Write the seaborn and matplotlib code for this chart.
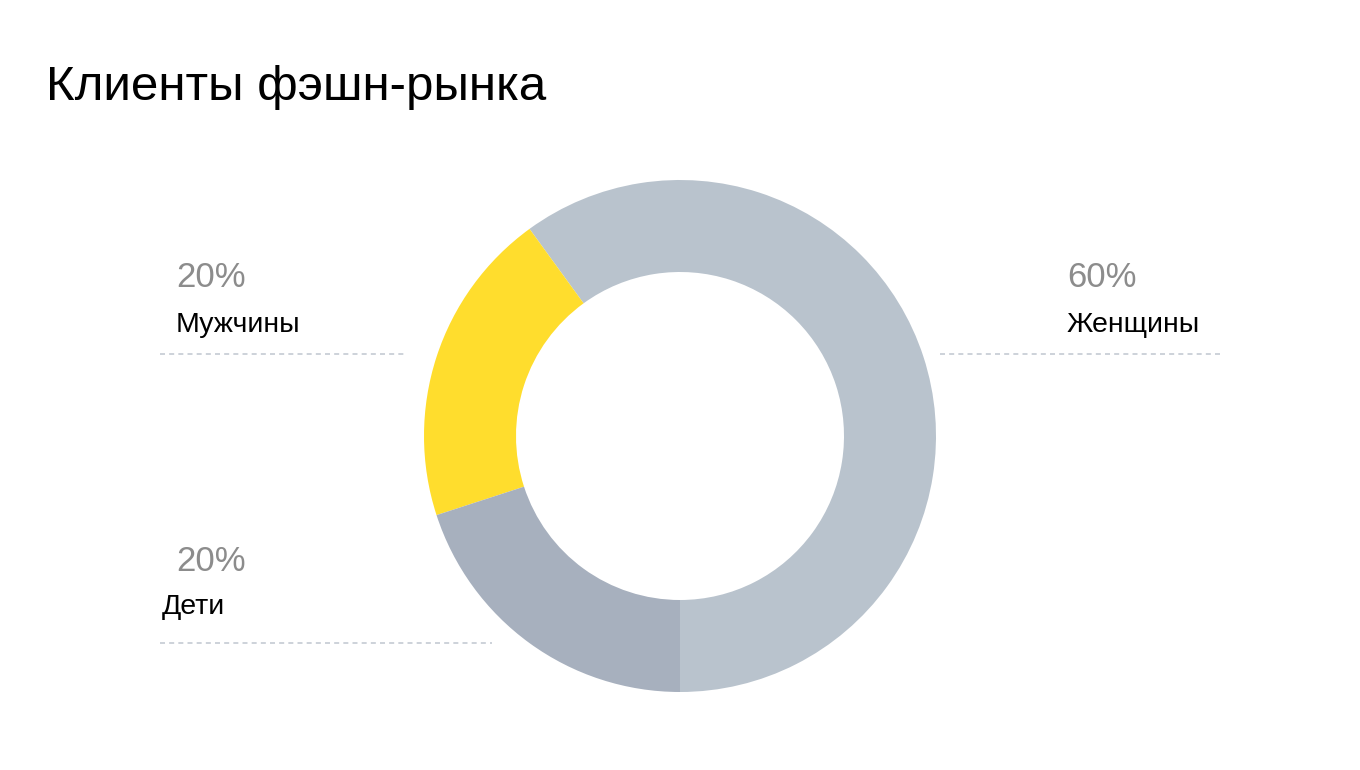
import matplotlib
matplotlib.use("Agg")
import matplotlib.pyplot as plt
import seaborn as sns

sns.set_theme(style="white")
plt.rcParams['font.family'] = ['Liberation Sans', 'DejaVu Sans']

title = "Клиенты фэшн-рынка"
categories = ["Женщины", "Мужчины", "Дети"]
values = [60, 20, 20]
pct_labels = ["60%", "20%", "20%"]
colors = ["#B9C3CD", "#FFDD2D", "#A7B0BE"]

W, H = 1360, 770
fig = plt.figure(figsize=(13.6, 7.7), dpi=100)
ax = fig.add_axes([0, 0, 1, 1])
ax.set_xlim(0, W)
ax.set_ylim(0, H)
ax.set_aspect('equal')
ax.axis('off')

def Y(py):
    return H - py

ax.pie(values, colors=colors, startangle=-90, counterclock=True,
       radius=256, center=(680, Y(436)),
       wedgeprops=dict(width=92, linewidth=0), frame=True)
ax.set_xlim(0, W)
ax.set_ylim(0, H)
ax.axis('off')

fig.text(46 / W, 1 - 100 / H, title, fontsize=35.5, color="black", va="baseline", ha="left")

# label positions: (pct x, pct baseline, name x, name baseline, line x0, line x1, line y)
layout = [
    (1067, 287, 1067, 332, 940, 1222, 354),
    (176, 287, 176, 332, 160, 407, 354),
    (176, 571, 162, 614, 160, 492, 643),
]
for cat, pct, (px, py, nx, ny, lx0, lx1, ly) in zip(categories, pct_labels, layout):
    ax.text(px, Y(py), pct, fontsize=25, color="#8C8C8C", va="baseline", ha="left")
    ax.text(nx, Y(ny), cat, fontsize=20.5, color="black", va="baseline", ha="left")
    ax.plot([lx0, lx1], [Y(ly), Y(ly)], color="#C5CBD3", lw=1.2,
            linestyle=(0, (3, 2.5)))

fig.savefig("out.png", dpi=100, facecolor="white")
